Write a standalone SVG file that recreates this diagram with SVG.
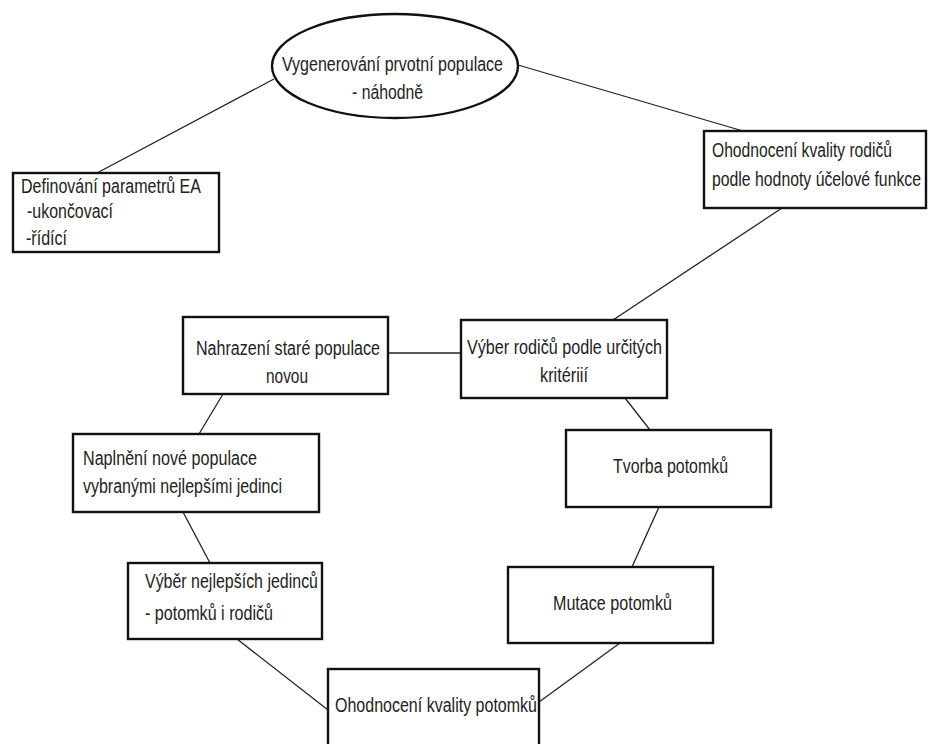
<svg xmlns="http://www.w3.org/2000/svg" width="930" height="744" viewBox="0 0 930 744">
  <style>
    .box { fill: #ffffff; stroke: #111111; stroke-width: 2.4; }
    .link { stroke: #222222; stroke-width: 1.3; fill: none; }
    text { font-family: "Liberation Sans", Arial, sans-serif; font-size: 16px; fill: #222222; }
  </style>
  <rect width="930" height="744" fill="#ffffff"/>

  <!-- connectors -->
  <g id="connectors">
    <line class="link" x1="274" y1="79" x2="97" y2="173"/>
    <line class="link" x1="518" y1="65" x2="743" y2="131"/>
    <line class="link" x1="782" y1="208" x2="613" y2="320"/>
    <line class="link" x1="461" y1="353" x2="388" y2="353"/>
    <line class="link" x1="223" y1="394" x2="199" y2="434"/>
    <line class="link" x1="183" y1="512" x2="210" y2="563"/>
    <line class="link" x1="237" y1="639" x2="328" y2="710"/>
    <line class="link" x1="625" y1="398" x2="650" y2="430"/>
    <line class="link" x1="659" y1="507" x2="632" y2="567"/>
    <line class="link" x1="620" y1="643" x2="539" y2="702"/>
  </g>

  <!-- labels use a tall, narrow face: 16px glyphs stretched vertically -->
  <g id="start">
    <ellipse class="box" cx="395" cy="66" rx="123" ry="52"/>
    <text transform="translate(282 71) scale(1 1.25)" textLength="221" lengthAdjust="spacingAndGlyphs">Vygenerování prvotní populace</text>
    <text transform="translate(352 99) scale(1 1.25)" textLength="71" lengthAdjust="spacingAndGlyphs">- náhodně</text>
  </g>

  <g id="params">
    <rect class="box" x="13" y="173" width="206" height="79"/>
    <text transform="translate(21 193) scale(1 1.25)" textLength="180" lengthAdjust="spacingAndGlyphs">Definování parametrů EA</text>
    <text transform="translate(27 218) scale(1 1.25)" textLength="86" lengthAdjust="spacingAndGlyphs">-ukončovací</text>
    <text transform="translate(26 245) scale(1 1.25)" textLength="41" lengthAdjust="spacingAndGlyphs">-řídící</text>
  </g>

  <g id="eval-parents">
    <rect class="box" x="704" y="131" width="222" height="77"/>
    <text transform="translate(712 157) scale(1 1.25)" textLength="180" lengthAdjust="spacingAndGlyphs">Ohodnocení kvality rodičů</text>
    <text transform="translate(712 186) scale(1 1.25)" textLength="209" lengthAdjust="spacingAndGlyphs">podle hodnoty účelové funkce</text>
  </g>

  <g id="replace">
    <rect class="box" x="183" y="317" width="205" height="77"/>
    <text transform="translate(196 355) scale(1 1.25)" textLength="184" lengthAdjust="spacingAndGlyphs">Nahrazení staré populace</text>
    <text transform="translate(266 383) scale(1 1.25)" textLength="42" lengthAdjust="spacingAndGlyphs">novou</text>
  </g>

  <g id="select-parents">
    <rect class="box" x="461" y="320" width="206" height="78"/>
    <text transform="translate(467 354) scale(1 1.25)" textLength="195" lengthAdjust="spacingAndGlyphs">Výber rodičů podle určitých</text>
    <text transform="translate(540 382) scale(1 1.25)" textLength="48" lengthAdjust="spacingAndGlyphs">kritériií</text>
  </g>

  <g id="fill">
    <rect class="box" x="73" y="434" width="246" height="78"/>
    <text transform="translate(83 465) scale(1 1.25)" textLength="174" lengthAdjust="spacingAndGlyphs">Naplnění nové populace</text>
    <text transform="translate(83 493) scale(1 1.25)" textLength="199" lengthAdjust="spacingAndGlyphs">vybranými nejlepšími jedinci</text>
  </g>

  <g id="offspring">
    <rect class="box" x="566" y="430" width="205" height="77"/>
    <text transform="translate(613 473) scale(1 1.25)" textLength="115" lengthAdjust="spacingAndGlyphs">Tvorba potomků</text>
  </g>

  <g id="select-best">
    <rect class="box" x="128" y="563" width="194" height="76"/>
    <text transform="translate(145 588) scale(1 1.25)" textLength="173" lengthAdjust="spacingAndGlyphs">Výběr nejlepších jedinců</text>
    <text transform="translate(145 620) scale(1 1.25)" textLength="128" lengthAdjust="spacingAndGlyphs">- potomků i rodičů</text>
  </g>

  <g id="mutation">
    <rect class="box" x="508" y="567" width="205" height="76"/>
    <text transform="translate(553 610) scale(1 1.25)" textLength="119" lengthAdjust="spacingAndGlyphs">Mutace potomků</text>
  </g>

  <g id="eval-offspring">
    <rect class="box" x="328" y="669" width="211" height="90"/>
    <text transform="translate(335 712) scale(1 1.25)" textLength="202" lengthAdjust="spacingAndGlyphs">Ohodnocení kvality potomků</text>
  </g>
</svg>
